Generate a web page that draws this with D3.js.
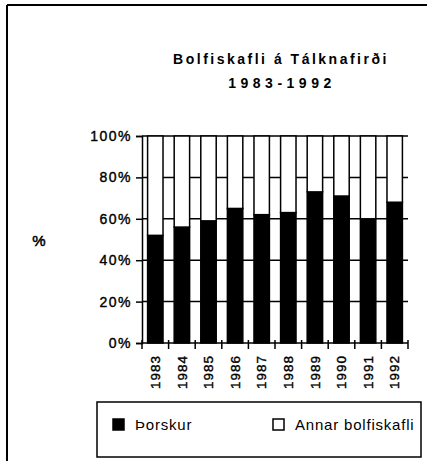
<!DOCTYPE html>
<html>
<head>
<meta charset="utf-8">
<script src="https://cdn.jsdelivr.net/npm/d3@7"></script>
<style>
  body { margin: 0; background: #fff; }
  text { font-family: "Liberation Sans", Arial, Helvetica, sans-serif; fill: #000; }
</style>
</head>
<body>
<div id="chart"></div>
<script>
// data (percent of groundfish catch)
var years = ["1983", "1984", "1985", "1986", "1987", "1988", "1989", "1990", "1991", "1992"];
var thorskur = [52, 56, 59, 65, 62, 63, 73, 71, 60, 68];
var annar = [48, 44, 41, 35, 38, 37, 27, 29, 40, 32];
var seriesNames = ["Þorskur", "Annar bolfiskafli"];
var seriesFill = ["#000", "#fff"];
var yTicks = [0, 20, 40, 60, 80, 100];

var width = 427, height = 461;

var svg = d3.select("#chart").append("svg")
  .attr("width", width).attr("height", height);

// frame (left and top edge of the scanned page)
svg.append("line").attr("x1", 7).attr("y1", 5).attr("x2", 7).attr("y2", height)
  .attr("stroke", "#000").attr("stroke-width", 2);
svg.append("line").attr("x1", 7).attr("y1", 5).attr("x2", width).attr("y2", 5)
  .attr("stroke", "#000").attr("stroke-width", 2);

// title
svg.append("text").attr("x", 281).attr("y", 64).attr("text-anchor", "middle")
  .style("font-size", "14px").style("font-weight", "bold").style("letter-spacing", "2.5px")
  .text("Bolfiskafli á Tálknafirði");
svg.append("text").attr("x", 282).attr("y", 88).attr("text-anchor", "middle")
  .style("font-size", "14px").style("font-weight", "bold").style("letter-spacing", "4.5px")
  .text("1983-1992");

var x = d3.scaleBand().domain(years).range([142, 408])
  .paddingInner(0.42).paddingOuter(0.21);
var y = d3.scaleLinear().domain([0, 100]).range([343, 136]);

// gridlines
svg.append("g").selectAll("line").data(yTicks.filter(function(d) { return d > 0; }))
  .join("line")
  .attr("x1", 142).attr("x2", 408)
  .attr("y1", function(d) { return y(d); }).attr("y2", function(d) { return y(d); })
  .attr("stroke", "#000").attr("stroke-width", 1.5);

// stacked bars
var rows = years.map(function(yr, i) { return { year: yr, a: thorskur[i], b: annar[i] }; });
var stack = d3.stack().keys(["a", "b"])(rows);

svg.append("g").selectAll("g").data(stack).join("g")
  .attr("fill", function(d, i) { return seriesFill[i]; })
  .selectAll("rect").data(function(d) { return d; }).join("rect")
  .attr("x", function(d) { return x(d.data.year); })
  .attr("width", x.bandwidth())
  .attr("y", function(d) { return y(d[1]); })
  .attr("height", function(d) { return y(d[0]) - y(d[1]); })
  .attr("stroke", "#000").attr("stroke-width", 1.5);

// y axis
var yAxis = svg.append("g").attr("transform", "translate(142,0)")
  .call(d3.axisLeft(y).tickValues(yTicks).tickSize(6).tickPadding(4)
    .tickFormat(function(d) { return d + "%"; }));
yAxis.select(".domain").attr("stroke-width", 1.5);
yAxis.selectAll(".tick line").attr("stroke-width", 1.5);
yAxis.selectAll("text").style("font-size", "14px").style("letter-spacing", "1.5px")
  .attr("font-family", null)
  .attr("stroke", "#000").attr("stroke-width", 0.4);

// x axis line and ticks between categories
svg.append("line").attr("x1", 142).attr("x2", 408).attr("y1", y(0)).attr("y2", y(0))
  .attr("stroke", "#000").attr("stroke-width", 1.5);
var bounds = [142].concat(years.map(function(d) { return x(d) + x.bandwidth() + x.step() * 0.21; }));
svg.append("g").selectAll("line").data(bounds).join("line")
  .attr("x1", function(d) { return d; }).attr("x2", function(d) { return d; })
  .attr("y1", y(0) - 3).attr("y2", y(0) + 6)
  .attr("stroke", "#000").attr("stroke-width", 1.5);

var xAxis = svg.append("g").attr("transform", "translate(0,355)")
  .call(d3.axisBottom(x).tickSize(0).tickPadding(0));
xAxis.select(".domain").remove();
xAxis.selectAll("text")
  .attr("y", 0).attr("x", 0).attr("dy", "0.35em")
  .attr("transform", "rotate(-90)")
  .attr("text-anchor", "end")
  .attr("font-family", null)
  .attr("stroke", "#000").attr("stroke-width", 0.4)
  .style("font-size", "13.5px").style("letter-spacing", "1px");

// y axis title
svg.append("text").attr("x", 39).attr("y", 246).attr("text-anchor", "middle")
  .attr("stroke", "#000").attr("stroke-width", 0.5)
  .style("font-size", "15px").text("%");

// legend
var legend = svg.append("g");
legend.append("rect").attr("x", 97).attr("y", 402).attr("width", 324).attr("height", 55)
  .attr("fill", "#fff").attr("stroke", "#000").attr("stroke-width", 1.5);
var legX = [113, 273];
var items = legend.selectAll("g").data(seriesNames).join("g")
  .attr("transform", function(d, i) { return "translate(" + legX[i] + ",419)"; });
items.append("rect").attr("width", 11).attr("height", 11)
  .attr("fill", function(d, i) { return seriesFill[i]; })
  .attr("stroke", "#000").attr("stroke-width", 1.5);
items.append("text").attr("x", 22).attr("y", 11)
  .style("font-size", "15px").style("letter-spacing", "0.8px")
  .text(function(d) { return d; });
</script>
</body>
</html>
